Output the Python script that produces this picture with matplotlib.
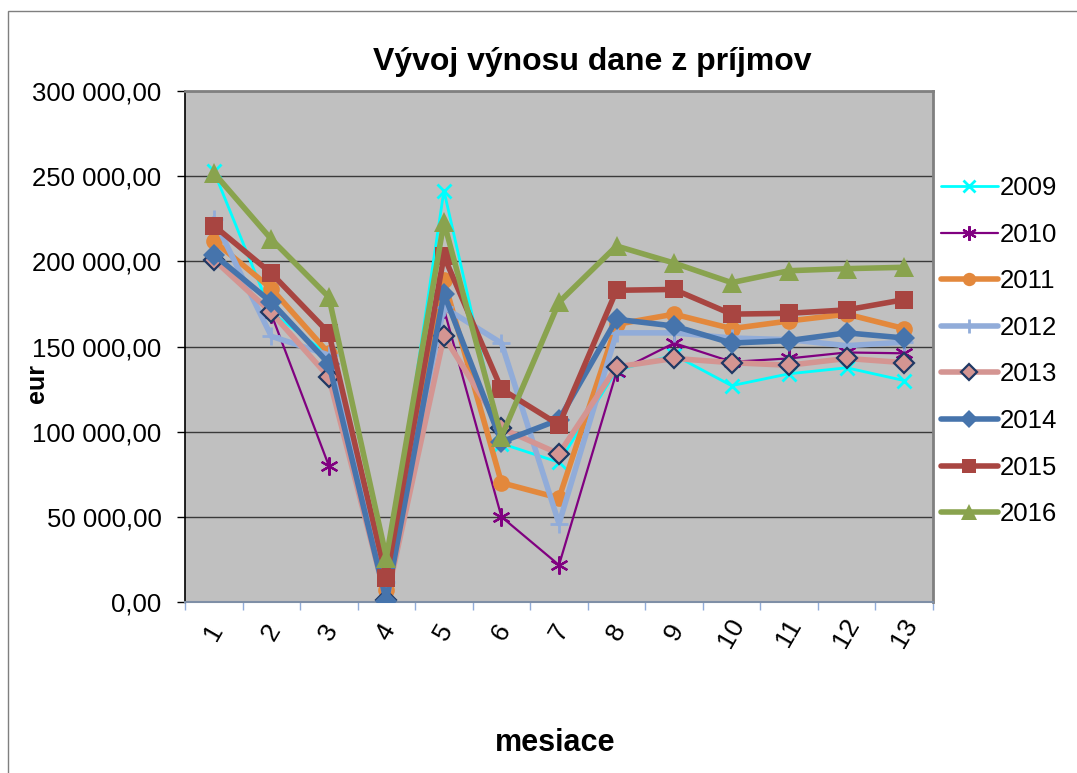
import numpy as np
import matplotlib
matplotlib.use("Agg")
import matplotlib.pyplot as plt
from matplotlib.ticker import FuncFormatter, MultipleLocator, FixedLocator
from matplotlib.patches import Rectangle

plt.rcParams['font.family'] = ['Liberation Sans', 'DejaVu Sans']

# data (eur), months 1..13
months = list(range(1, 14))
years = ['2009', '2010', '2011', '2012', '2013', '2014', '2015', '2016']

v2009 = [253000, 170000, 145000, 14000, 241500, 93000, 82000, 136000, 145000, 127000, 134000, 137500, 130000]
v2010 = [202000, 169000, 80000, np.nan, 172000, 50000, 21700, 135000, 152000, 141000, 143000, 146500, 146000]
v2011 = [212000, 184000, 146000, 7000, 189000, 70000, 61000, 163000, 169000, 160500, 165000, 169000, 160500]
v2012 = [225000, 156000, 145000, 12000, 173000, 152000, 46000, 158000, 158000, 155000, 154000, 150500, 152500]
v2013 = [201000, 170000, 132000, 1000, 156000, 102000, 87000, 138000, 143000, 140500, 139000, 143000, 140500]
v2014 = [204000, 176000, 140000, 500, 181000, 94000, 107000, 166000, 162000, 152000, 153500, 158000, 155000]
v2015 = [221000, 193000, 158000, 14000, 203000, 125000, 104000, 183000, 183500, 169000, 169500, 171500, 177500]
v2016 = [252000, 213000, 179000, 26000, 223000, 97000, 176000, 209000, 199000, 187500, 194500, 195700, 196500]

series = [v2009, v2010, v2011, v2012, v2013, v2014, v2015, v2016]

# styles per year
styles = {
    '2009': dict(color='#00FFFF', lw=2.0, marker='x', ms=10, mew=2.0, mfc='#00FFFF', mec='#00FFFF'),
    '2010': dict(color='#800080', lw=1.6, marker=(6, 2, 0), ms=13, mew=1.6, mfc='#800080', mec='#800080'),
    '2011': dict(color='#E3883C', lw=4.0, marker='o', ms=12, mew=0, mfc='#E3883C', mec='#E3883C'),
    '2012': dict(color='#91ACD9', lw=4.0, marker='+', ms=13, mew=2.0, mfc='#91ACD9', mec='#91ACD9'),
    '2013': dict(color='#D49592', lw=4.0, marker='D', ms=10, mew=1.6, mfc='#D49592', mec='#1F3864'),
    '2014': dict(color='#4674AC', lw=4.0, marker='D', ms=11, mew=0, mfc='#4674AC', mec='#4674AC'),
    '2015': dict(color='#A84541', lw=4.0, marker='s', ms=13, mew=0, mfc='#A84541', mec='#A84541'),
    '2016': dict(color='#89A34E', lw=4.0, marker='^', ms=14, mew=0, mfc='#89A34E', mec='#89A34E'),
}

fig = plt.figure(figsize=(10.77, 7.73), dpi=100)
fig.patch.set_facecolor('white')

# outer chart border (only left/top visible in the picture)
fig.patches.append(Rectangle((8 / 1077, -0.1), 1.2, 1 - 11 / 773 + 0.1, transform=fig.transFigure,
                             fill=False, edgecolor='#7f7f7f', lw=1.0))

ax = fig.add_axes([185 / 1077, (773 - 602) / 773, 748 / 1077, 511 / 773])
ax.set_facecolor('#C0C0C0')

for yr, vals in zip(years, series):
    s = styles[yr]
    ax.plot(months, vals, color=s['color'], lw=s['lw'], marker=s['marker'], ms=s['ms'],
            mew=s['mew'], mfc=s['mfc'], mec=s['mec'], label=yr, solid_joinstyle='round',
            solid_capstyle='round', zorder=3)

ax.set_xlim(0.5, 13.5)
ax.set_ylim(0, 300000)

ax.yaxis.set_major_locator(MultipleLocator(50000))
ax.yaxis.set_major_formatter(FuncFormatter(lambda v, p: f"{v:,.2f}".replace(',', ' ').replace('.', ',')))
ax.grid(axis='y', color='#3a3a3a', lw=1.0, zorder=1)
ax.set_axisbelow(True)

ax.xaxis.set_major_locator(FixedLocator(months))
ax.xaxis.set_minor_locator(FixedLocator(np.arange(0.5, 14, 1)))
ax.tick_params(axis='x', which='major', length=0, pad=22, labelsize=19, labelrotation=60)
ax.tick_params(axis='x', which='minor', length=6, color='#91ACD9', width=1)
ax.tick_params(axis='y', length=6, width=1, color='black', labelsize=18.5, pad=11)
for lbl in ax.get_xticklabels():
    lbl.set_ha('center')
    lbl.set_va('center')

ax.spines['left'].set_color('black')
ax.spines['left'].set_linewidth(1.2)
ax.spines['bottom'].set_color('#7f8fa6')
ax.spines['bottom'].set_linewidth(1.5)
ax.spines['top'].set_color('#808080')
ax.spines['top'].set_linewidth(2)
ax.spines['right'].set_color('#808080')
ax.spines['right'].set_linewidth(2)

fig.text(592 / 1077, 1 - 62 / 773, 'Vývoj výnosu dane z príjmov', ha='center', va='center',
         fontsize=23, fontweight='bold')
fig.text(555 / 1077, 1 - 743 / 773, 'mesiace', ha='center', va='center', fontsize=22, fontweight='bold')
fig.text(37 / 1077, 1 - 384 / 773, 'eur', ha='center', va='center', fontsize=18, fontweight='bold',
         rotation=90)

leg = fig.legend(loc='upper left', bbox_to_anchor=(941 / 1077, 1 - 176 / 773), frameon=False,
                 fontsize=18.5, handlelength=2.2, handletextpad=0.1, labelspacing=0.88, markerscale=0.8,
                 borderaxespad=0, borderpad=0)

fig.savefig('out.png', dpi=100)
